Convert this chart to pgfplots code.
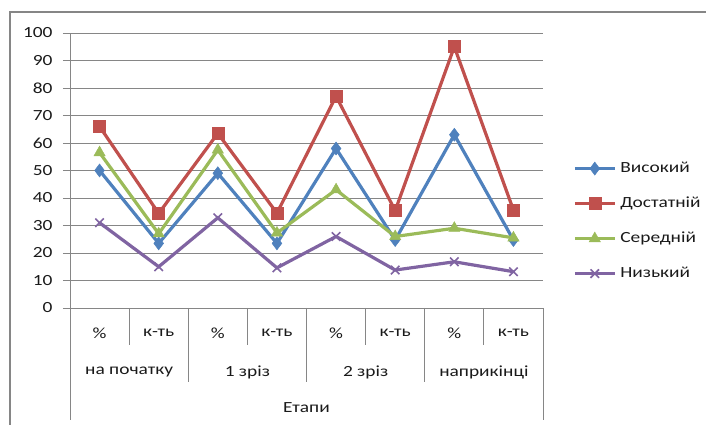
\documentclass[border=0pt]{standalone}
\usepackage{fontspec}
\setmainfont{Carlito}[FakeStretch=1.25]
\usepackage{pgfplots}
\pgfplotsset{compat=1.18}
\definecolor{cblue}{HTML}{4F81BD}
\definecolor{cred}{HTML}{C0504D}
\definecolor{cgreen}{HTML}{9BBB59}
\definecolor{cpurple}{HTML}{8064A2}
\definecolor{gridgray}{HTML}{868686}
\definecolor{txt}{HTML}{1A1A1A}
\newcommand{\lf}{\fontsize{15.5}{18}\selectfont}
\begin{document}
\begin{tikzpicture}[x=1pt,y=1pt]
\useasboundingbox (0pt,0pt) rectangle (706pt,425pt);
\draw[gridgray, line width=1.3pt] (10pt,0pt) -- (10pt,413pt) -- (706pt,413pt);
\begin{axis}[
  at={(70pt,117pt)}, anchor=south west,
  scale only axis, width=473pt, height=275pt,
  xmin=0, xmax=8, ymin=0, ymax=100,
  ytick={0,10,...,100}, xtick=\empty,
  ymajorgrids, grid style={color=gridgray, line width=0.9pt},
  axis x line=bottom, axis y line=left,
  axis line style={-, color=gridgray, line width=0.9pt},
  tick align=outside, major tick length=7pt,
  ytick style={color=gridgray, line width=0.9pt},
  /pgf/number format/assume math mode=true,
  yticklabel style={font=\lf, text=txt, xshift=-7pt},
  clip=false,
  legend style={at={(1.057,0.316)}, anchor=west, draw=none, fill=none,
    font=\lf, text=txt, row sep=21pt,
    nodes={inner sep=0pt, text height=11pt, text depth=3pt},
    /tikz/every odd column/.append style={column sep=4pt}},
  legend cell align=left,
  legend image code/.code={\draw[#1, mark repeat=2, mark phase=2] plot coordinates {(0pt,0pt) (20pt,0pt) (40pt,0pt)};},
  every axis plot/.append style={line width=3.2pt},
]
\addplot[cblue, mark=diamond*, mark size=6.5pt, mark options={line width=0.5pt}] coordinates {(0.5,50) (1.5,23.5) (2.5,49) (3.5,23.5) (4.5,58) (5.5,24.7) (6.5,63) (7.5,24.7)};
\addlegendentry{Високий}
\addplot[cred, mark=square*, mark size=6pt, mark options={line width=0.5pt}] coordinates {(0.5,66) (1.5,34.4) (2.5,63.5) (3.5,34.5) (4.5,77) (5.5,35.4) (6.5,95) (7.5,35.6)};
\addlegendentry{Достатній}
\addplot[cgreen, mark=triangle*, mark size=6.5pt, mark options={line width=0.5pt}] coordinates {(0.5,56.5) (1.5,27) (2.5,57.5) (3.5,27.3) (4.5,43) (5.5,26) (6.5,29) (7.5,25.5)};
\addlegendentry{Середній}
\addplot[cpurple, mark=x, mark size=6pt, mark options={line width=1.6pt}] coordinates {(0.5,31) (1.5,15) (2.5,32.8) (3.5,14.6) (4.5,26) (5.5,13.8) (6.5,16.8) (7.5,13.2)};
\addlegendentry{Низький}
% category separators
\pgfplotsinvokeforeach{1,3,5,7}{\draw[gridgray, line width=0.9pt] (axis cs:#1,0) -- ++(0pt,-37pt);}
\pgfplotsinvokeforeach{2,4,6}{\draw[gridgray, line width=0.9pt] (axis cs:#1,0) -- ++(0pt,-74pt);}
\pgfplotsinvokeforeach{0,8}{\draw[gridgray, line width=0.9pt] (axis cs:#1,0) -- ++(0pt,-112pt);}
% first-level labels
\pgfplotsinvokeforeach{0.5,2.5,4.5,6.5}{\node[font=\lf, text=txt, yshift=-25pt] at (axis cs:#1,0) {\%};}
\pgfplotsinvokeforeach{1.5,3.5,5.5,7.5}{\node[font=\lf, text=txt, yshift=-25pt] at (axis cs:#1,0) {к-ть};}
\node[font=\lf, text=txt, yshift=-64pt] at (axis cs:1,0) {на початку};
\node[font=\lf, text=txt, yshift=-64pt] at (axis cs:3,0) {1 зріз};
\node[font=\lf, text=txt, yshift=-64pt] at (axis cs:5,0) {2 зріз};
\node[font=\lf, text=txt, yshift=-64pt] at (axis cs:7,0) {наприкінці};
\node[font=\lf, text=txt, yshift=-100pt] at (axis cs:4,0) {Етапи};
\end{axis}
\end{tikzpicture}
\end{document}
